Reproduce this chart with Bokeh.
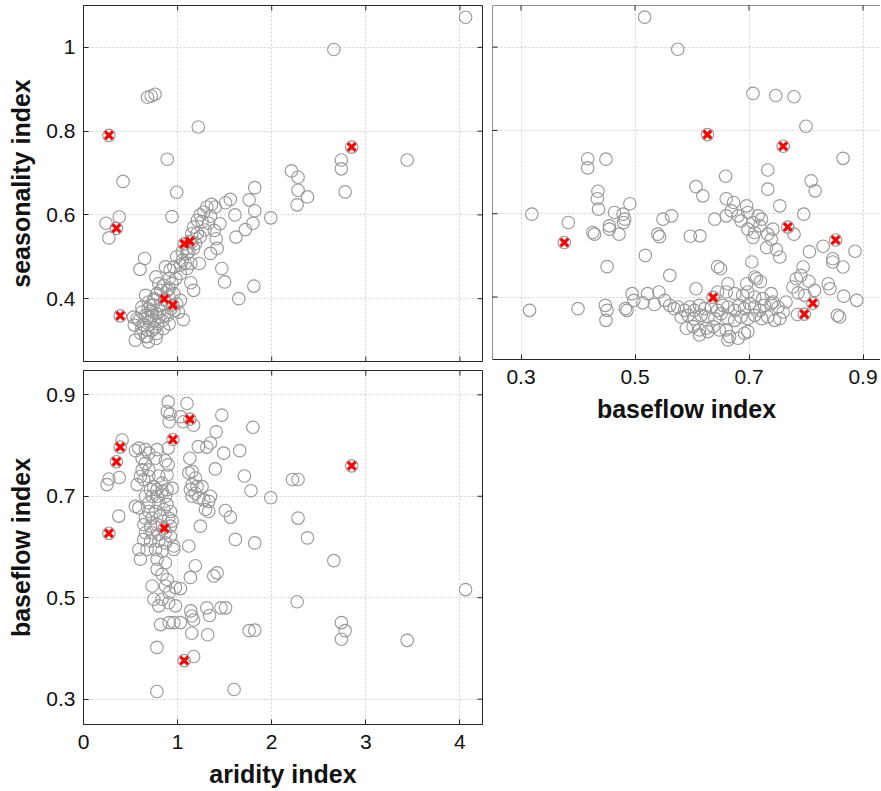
from math import pi
from bokeh.plotting import figure
from bokeh.layouts import row, column
from bokeh.models import LinearAxis, FixedTicker, CustomJSTickFormatter, Range1d, Grid, Span
from bokeh.embed import file_html
from bokeh.resources import INLINE

FONT = "Liberation Sans"
AXIS = "#262626"
TEXT = "#111111"
GRAY = "#999999"
GRID = "#d0d0d0"

aridity_ticks = [0, 1, 2, 3, 4]
seasonality_ticks = [0.4, 0.6, 0.8, 1.0]
baseflow_ticks = [0.3, 0.5, 0.7, 0.9]

# highlighted catchments (red crosses), same catchments in all panels
hl_aridity = [0.27, 0.35, 0.39, 0.86, 0.95, 1.07, 1.13, 2.85]
hl_seasonality = [0.790, 0.568, 0.359, 0.399, 0.385, 0.531, 0.537, 0.762]
hl_baseflow = [0.627, 0.768, 0.797, 0.637, 0.812, 0.376, 0.852, 0.760]

# panel: aridity vs seasonality
ar_sea_aridity = [
    4.06, 2.66, 0.68, 0.72, 0.76, 1.22, 0.89, 3.44, 2.74, 2.74,
    0.42, 2.21, 2.28, 2.28, 2.27, 2.38, 2.78, 0.99, 1.82, 1.76,
    1.82, 1.56, 1.51, 1.61, 1.99, 0.94, 0.24, 0.38, 0.27, 1.62,
    1.72, 1.80, 1.45, 1.39, 1.41, 1.35, 1.42, 1.23, 1.47, 1.50,
    1.81, 1.65, 1.14, 1.17, 0.65, 0.60,
    0.55, 0.69, 0.66, 0.61, 0.54, 0.57, 0.53, 0.64, 0.73, 0.78,
    0.75, 0.68, 0.62, 0.69, 0.78, 0.84, 0.89, 0.96, 1.01, 1.06,
    0.91, 0.85, 0.66, 0.69, 0.75, 0.78, 0.82, 0.89, 0.91, 0.96,
    0.85, 0.77, 0.80, 0.91, 0.92, 0.87, 0.96, 1.03, 0.99, 1.05,
    1.10, 0.73, 0.59, 0.62, 0.71, 0.82, 0.93, 0.99, 1.03, 0.77,
    0.68, 0.70, 0.72, 0.76, 0.80, 0.66, 0.74, 0.81, 0.86, 0.62,
    0.68, 0.75, 0.79,
    1.12, 1.17, 1.15, 1.17, 1.21, 1.24, 1.28, 1.31, 1.36, 1.40,
    1.26, 1.21, 1.15, 1.10, 1.14, 1.19, 1.24, 1.29, 1.33, 1.35,
    1.08, 1.05, 1.10, 1.03, 0.98, 0.94, 0.91]
ar_sea_seasonality = [
    1.072, 0.995, 0.881, 0.884, 0.888, 0.810, 0.733, 0.731, 0.731, 0.710,
    0.680, 0.705, 0.690, 0.659, 0.624, 0.643, 0.655, 0.654, 0.665, 0.636,
    0.610, 0.637, 0.629, 0.600, 0.593, 0.596, 0.580, 0.595, 0.545, 0.547,
    0.565, 0.580, 0.579, 0.563, 0.543, 0.508, 0.520, 0.484, 0.472, 0.440,
    0.430, 0.400, 0.438, 0.420, 0.496, 0.470,
    0.301, 0.297, 0.309, 0.317, 0.337, 0.352, 0.356, 0.337, 0.325, 0.317,
    0.348, 0.356, 0.368, 0.376, 0.364, 0.348, 0.360, 0.372, 0.368, 0.350,
    0.340, 0.329, 0.408, 0.392, 0.396, 0.412, 0.420, 0.420, 0.404, 0.412,
    0.432, 0.452, 0.436, 0.448, 0.468, 0.476, 0.476, 0.480, 0.500, 0.512,
    0.520, 0.360, 0.348, 0.380, 0.384, 0.384, 0.376, 0.388, 0.396, 0.305,
    0.325, 0.345, 0.370, 0.330, 0.355, 0.360, 0.385, 0.370, 0.360, 0.330,
    0.310, 0.400, 0.340,
    0.512, 0.520, 0.555, 0.571, 0.587, 0.600, 0.607, 0.619, 0.625, 0.619,
    0.584, 0.556, 0.536, 0.508, 0.484, 0.532, 0.548, 0.564, 0.580, 0.597,
    0.484, 0.492, 0.472, 0.460, 0.448, 0.436, 0.424]

# panel: baseflow vs seasonality
bf_sea_baseflow = [
    0.517, 0.575, 0.707, 0.747, 0.779, 0.800, 0.865, 0.417, 0.417, 0.449,
    0.733, 0.659, 0.809, 0.816, 0.733, 0.607, 0.619, 0.660, 0.673, 0.435,
    0.434, 0.436, 0.491, 0.754, 0.319, 0.383,
    0.464, 0.479, 0.482, 0.455, 0.455, 0.472, 0.426, 0.429, 0.480,
    0.549, 0.564, 0.540, 0.543, 0.597, 0.614, 0.640,
    0.660, 0.669, 0.681, 0.698, 0.696, 0.716, 0.722, 0.707, 0.698, 0.707,
    0.719, 0.733, 0.742, 0.739, 0.731, 0.748, 0.754, 0.686, 0.710,
    0.779, 0.796, 0.830, 0.806, 0.886, 0.847, 0.847, 0.865, 0.518, 0.451,
    0.561, 0.645, 0.650, 0.705, 0.710, 0.720, 0.795, 0.791, 0.783, 0.805,
    0.839, 0.842, 0.607, 0.663, 0.696, 0.315, 0.400,
    0.495, 0.522, 0.542, 0.514, 0.534, 0.498, 0.448, 0.451, 0.449, 0.483, 0.486,
    0.866, 0.889, 0.855, 0.859, 0.785, 0.777, 0.786, 0.798, 0.815,
    0.561, 0.575, 0.587, 0.596, 0.604, 0.613, 0.622, 0.634, 0.645, 0.654,
    0.663, 0.675, 0.683, 0.692, 0.701, 0.710, 0.719, 0.727, 0.739, 0.751,
    0.760, 0.765, 0.581, 0.593, 0.604, 0.616, 0.628, 0.640, 0.651, 0.663,
    0.675, 0.686, 0.698, 0.710, 0.722, 0.733, 0.745, 0.754, 0.590, 0.602,
    0.613, 0.625, 0.637, 0.648, 0.660, 0.666, 0.681, 0.692, 0.698, 0.663,
    0.613, 0.628, 0.645, 0.660, 0.675, 0.689, 0.698, 0.710, 0.724, 0.739,
    0.742, 0.713, 0.552, 0.569]
bf_sea_seasonality = [
    1.072, 0.995, 0.889, 0.884, 0.881, 0.810, 0.733, 0.732, 0.710, 0.731,
    0.705, 0.690, 0.679, 0.655, 0.659, 0.665, 0.643, 0.636, 0.627, 0.654,
    0.636, 0.611, 0.624, 0.619, 0.599, 0.579,
    0.603, 0.599, 0.587, 0.571, 0.563, 0.551, 0.555, 0.551, 0.579,
    0.587, 0.595, 0.551, 0.545, 0.546, 0.547, 0.587,
    0.595, 0.607, 0.595, 0.603, 0.619, 0.595, 0.587, 0.579, 0.563, 0.543,
    0.571, 0.551, 0.563, 0.539, 0.519, 0.514, 0.496, 0.583, 0.555,
    0.551, 0.599, 0.522, 0.509, 0.510, 0.492, 0.484, 0.472, 0.500, 0.473,
    0.452, 0.473, 0.468, 0.484, 0.448, 0.437, 0.472, 0.452, 0.444, 0.438,
    0.432, 0.420, 0.420, 0.432, 0.432, 0.368, 0.372,
    0.408, 0.408, 0.412, 0.386, 0.382, 0.392, 0.380, 0.368, 0.344, 0.372, 0.368,
    0.402, 0.392, 0.356, 0.352, 0.358, 0.424, 0.410, 0.404, 0.416,
    0.380, 0.376, 0.368, 0.376, 0.368, 0.380, 0.372, 0.376, 0.368, 0.380,
    0.376, 0.368, 0.380, 0.372, 0.384, 0.376, 0.368, 0.380, 0.384, 0.376,
    0.364, 0.388, 0.352, 0.356, 0.348, 0.356, 0.352, 0.348, 0.360, 0.348,
    0.344, 0.352, 0.348, 0.356, 0.348, 0.352, 0.344, 0.348, 0.325, 0.329,
    0.321, 0.325, 0.329, 0.321, 0.321, 0.305, 0.301, 0.313, 0.317, 0.297,
    0.309, 0.317, 0.412, 0.412, 0.408, 0.404, 0.412, 0.400, 0.396, 0.408,
    0.388, 0.444, 0.392, 0.372]

# panel: aridity vs baseflow
ar_bf_aridity = [
    0.90, 1.10, 0.89, 0.92, 1.03, 1.06, 1.17, 0.91, 1.47, 1.41,
    1.80, 0.90, 0.87, 0.90, 1.22, 1.31, 1.35, 1.49, 1.66, 1.13,
    1.40, 1.71, 1.78, 1.99, 2.22, 2.28, 2.28, 0.41, 0.25, 0.27,
    0.38, 0.375,
    0.552, 0.588, 0.658, 0.694, 0.782, 0.765, 0.623, 0.658, 0.694, 0.623,
    0.605, 0.570, 0.641, 0.694, 0.800, 0.888, 0.835, 0.747, 0.712, 0.782,
    0.835, 0.888, 0.942, 0.729, 0.658, 0.782, 0.871, 0.694, 0.800, 0.888,
    0.552, 0.588, 0.694, 0.765, 0.853, 0.924, 0.658, 0.729, 0.818, 0.906,
    0.942, 0.641, 0.712, 0.782, 0.924, 0.658, 0.729, 0.800, 0.871, 0.924,
    0.641, 0.712, 0.800, 0.871, 0.959, 0.588, 0.676, 0.765, 0.835, 0.959,
    0.605, 0.782, 0.871, 0.782, 0.835, 0.888, 0.729, 0.871, 0.977, 0.747,
    0.835, 0.800, 0.906, 0.977,
    1.119, 1.154, 1.189, 1.154, 1.207, 1.260, 1.136, 1.189, 1.154, 1.225,
    1.278, 1.331, 1.349, 1.296, 1.331, 1.508, 1.561, 1.242, 1.119, 1.189,
    1.136, 1.384, 1.420, 1.614, 1.820,
    1.03, 0.91, 0.82, 0.91, 0.96, 1.03, 0.78, 0.78, 1.14, 1.15,
    1.17, 1.15, 1.17, 1.31, 1.34, 1.32, 1.46, 1.51, 1.76, 1.82,
    1.60, 2.74, 2.78, 2.74, 3.44, 2.27, 4.06, 2.66, 2.38]
ar_bf_baseflow = [
    0.886, 0.883, 0.867, 0.862, 0.857, 0.847, 0.840, 0.847, 0.860, 0.827,
    0.836, 0.795, 0.770, 0.762, 0.798, 0.797, 0.805, 0.785, 0.790, 0.775,
    0.754, 0.740, 0.711, 0.697, 0.733, 0.733, 0.657, 0.811, 0.723, 0.734,
    0.737, 0.661,
    0.790, 0.795, 0.792, 0.785, 0.792, 0.775, 0.775, 0.765, 0.752, 0.752,
    0.739, 0.723, 0.733, 0.739, 0.740, 0.742, 0.726, 0.719, 0.713, 0.713,
    0.710, 0.713, 0.716, 0.700, 0.700, 0.700, 0.700, 0.687, 0.687, 0.684,
    0.680, 0.677, 0.670, 0.670, 0.674, 0.670, 0.657, 0.657, 0.661, 0.657,
    0.651, 0.644, 0.641, 0.644, 0.641, 0.628, 0.628, 0.625, 0.628, 0.621,
    0.615, 0.612, 0.612, 0.608, 0.602, 0.595, 0.595, 0.595, 0.592, 0.595,
    0.576, 0.576, 0.569, 0.556, 0.546, 0.536, 0.523, 0.523, 0.520, 0.497,
    0.497, 0.484, 0.490, 0.484,
    0.746, 0.749, 0.736, 0.723, 0.719, 0.719, 0.713, 0.706, 0.700, 0.697,
    0.693, 0.690, 0.700, 0.674, 0.670, 0.672, 0.659, 0.641, 0.602, 0.563,
    0.540, 0.543, 0.549, 0.615, 0.608,
    0.518, 0.510, 0.447, 0.451, 0.451, 0.451, 0.402, 0.315, 0.474, 0.464,
    0.456, 0.430, 0.384, 0.480, 0.465, 0.427, 0.480, 0.480, 0.435, 0.436,
    0.319, 0.451, 0.435, 0.418, 0.416, 0.492, 0.516, 0.573, 0.618]

assert len(ar_sea_aridity) == len(ar_sea_seasonality)
assert len(bf_sea_baseflow) == len(bf_sea_seasonality)
assert len(ar_bf_aridity) == len(ar_bf_baseflow)


def labeled_axis(ticks, title, label_standoff, title_standoff):
    ax = LinearAxis(ticker=FixedTicker(ticks=ticks),
                    formatter=CustomJSTickFormatter(code="return String(Math.round(tick*100)/100);"))
    ax.major_tick_in = 5
    ax.major_tick_out = 0
    ax.minor_tick_in = 0
    ax.minor_tick_out = 0
    ax.major_tick_line_color = AXIS
    ax.axis_line_color = AXIS
    ax.major_label_text_font = FONT
    ax.major_label_text_font_size = "21px"
    ax.major_label_text_color = TEXT
    ax.major_label_standoff = label_standoff
    if title:
        ax.axis_label = title
        ax.axis_label_text_font = FONT
        ax.axis_label_text_font_size = "25px"
        ax.axis_label_text_font_style = "bold"
        ax.axis_label_text_color = TEXT
        ax.axis_label_standoff = title_standoff
    return ax


def panel(width, height, xr, yr, xticks, yticks, borders):
    left, right, top, bottom = borders
    p = figure(width=width, height=height, x_range=Range1d(*xr), y_range=Range1d(*yr),
               x_axis_type=None, y_axis_type=None,
               output_backend="svg", toolbar_location=None,
               min_border_left=left, min_border_right=right,
               min_border_top=top, min_border_bottom=bottom)
    p.add_layout(Grid(dimension=0, ticker=FixedTicker(ticks=xticks), grid_line_color=GRID,
                      grid_line_dash="2 2", grid_line_width=1))
    p.add_layout(Grid(dimension=1, ticker=FixedTicker(ticks=yticks), grid_line_color=GRID,
                      grid_line_dash="2 2", grid_line_width=1))
    return p


def edge_ticks(p, xr, yr, xticks, yticks, sides):
    # short inward tick marks on unlabeled sides (clipped to the frame)
    for side in sides:
        if side in ("top", "bottom"):
            yv = yr[1] if side == "top" else yr[0]
            p.scatter(x=xticks, y=[yv] * len(xticks), marker="dash", size=10,
                      angle=pi / 2, line_color=AXIS, line_width=1)
        else:
            xv = xr[1] if side == "right" else xr[0]
            p.scatter(x=[xv] * len(yticks), y=yticks, marker="dash", size=10,
                      line_color=AXIS, line_width=1)


def draw(p, x, y, hx, hy):
    p.scatter(x=x, y=y, marker="circle", size=12.5, fill_color=None,
              line_color=GRAY, line_width=1.15)
    p.scatter(x=hx, y=hy, marker="circle", size=12.5, fill_color=None,
              line_color=GRAY, line_width=1.15)
    p.scatter(x=hx, y=hy, marker="x", size=11, line_color="#ff0000", line_width=3.2)


ar_range = (0, 4.24)
sea_range = (0.25, 1.10)
bf_range_y = (0.25, 0.948)
bf_range_x = (0.25, 0.9307)

# top-left: aridity vs seasonality
p1 = panel(483, 365, ar_range, sea_range, aridity_ticks, seasonality_ticks, (83, 1, 5, 4))
p1.add_layout(labeled_axis(seasonality_ticks, "seasonality index", 8, 8), "left")
p1.outline_line_color = AXIS
draw(p1, ar_sea_aridity, ar_sea_seasonality, hl_aridity, hl_seasonality)
edge_ticks(p1, ar_range, sea_range, aridity_ticks, seasonality_ticks, ["top", "bottom", "right"])

# bottom-left: aridity vs baseflow
p3 = panel(483, 425, ar_range, bf_range_y, aridity_ticks, baseflow_ticks, (83, 1, 5, 64))
p3.add_layout(labeled_axis(baseflow_ticks, "baseflow index", 8, 8), "left")
p3.add_layout(labeled_axis(aridity_ticks, "aridity index", 10, 8), "below")
p3.outline_line_color = AXIS
draw(p3, ar_bf_aridity, ar_bf_baseflow, hl_aridity, hl_baseflow)
edge_ticks(p3, ar_range, bf_range_y, aridity_ticks, baseflow_ticks, ["top", "right"])

# top-right: baseflow vs seasonality (right edge cut off as in the original)
p2 = panel(397, 425, bf_range_x, sea_range, baseflow_ticks, seasonality_ticks, (9, 0, 5, 64))
p2.add_layout(labeled_axis(baseflow_ticks, "baseflow index", 10, 8), "below")
p2.outline_line_color = None
p2.add_layout(Span(location=bf_range_x[0], dimension="height", line_color=AXIS, line_width=1))
p2.add_layout(Span(location=sea_range[1], dimension="width", line_color=AXIS, line_width=1))
draw(p2, bf_sea_baseflow, bf_sea_seasonality, hl_baseflow, hl_seasonality)
edge_ticks(p2, bf_range_x, sea_range, baseflow_ticks, seasonality_ticks, ["top", "left"])

layout = row(column(p1, p3), p2)

open("out.html", "w").write(file_html(layout, INLINE))
